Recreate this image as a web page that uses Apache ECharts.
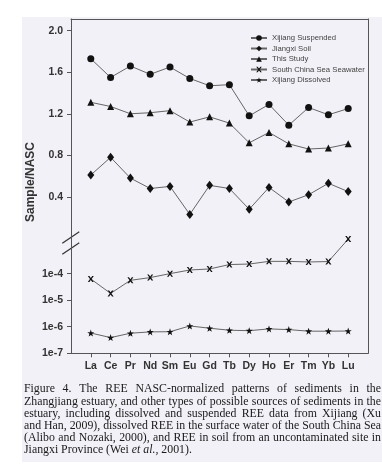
<!DOCTYPE html>
<html>
<head>
<meta charset="utf-8">
<script src="https://cdn.jsdelivr.net/npm/echarts@6/dist/echarts.min.js"></script>
<style>
html,body{margin:0;padding:0;background:#fff;}
#c{width:382px;height:470px;}
</style>
</head>
<body>
<div id="c"></div>
<script>
// ---- data ----
const categories = ['La','Ce','Pr','Nd','Sm','Eu','Gd','Tb','Dy','Ho','Er','Tm','Yb','Lu'];
const xijiangSuspended = [1.73,1.55,1.66,1.58,1.65,1.54,1.47,1.48,1.18,1.29,1.09,1.26,1.19,1.25];
const jiangxiSoil = [0.61,0.78,0.58,0.48,0.50,0.23,0.51,0.48,0.28,0.49,0.35,0.42,0.53,0.45];
const thisStudy = [1.31,1.27,1.20,1.21,1.23,1.12,1.17,1.11,0.92,1.02,0.91,0.86,0.87,0.91];
const seawater = [6.3e-5,1.8e-5,5.6e-5,7.1e-5,1.0e-4,1.37e-4,1.5e-4,2.2e-4,2.3e-4,2.9e-4,2.9e-4,2.75e-4,2.85e-4,2.0e-3];
const dissolved = [5.8e-7,3.9e-7,5.7e-7,6.4e-7,6.5e-7,1.07e-6,8.8e-7,7.4e-7,7.1e-7,8.3e-7,7.8e-7,6.8e-7,6.8e-7,6.9e-7];
const upperTicks = [0.4,0.8,1.2,1.6,2.0];
const lowerTicks = [1e-7,1e-6,1e-5,1e-4];
const seriesNames = ['Xijiang Suspended','Jiangxi Soil','This Study','South China Sea Seawater','Xijiang Dissolved'];
const yTitle = 'Sample/NASC';
const captionLines = [
  'Figure 4.  The REE NASC-normalized patterns of sediments in the',
  'Zhangjiang estuary, and other types of possible sources of sediments in the',
  'estuary, including dissolved and suspended REE data from Xijiang (Xu',
  'and Han, 2009), dissolved REE in the surface water of the South China Sea',
  '(Alibo and Nozaki, 2000), and REE in soil from an uncontaminated site in',
  'Jiangxi Province (Wei et al., 2001).'
];
const italicWords = ['et','al.,'];

// ---- styles ----
const SANS = '"Liberation Sans", Arial, sans-serif';
const SERIF = '"Liberation Serif", "Times New Roman", serif';
const BG = '#f1f1f7';
const TXT = '#333';
const LINE = '#666';
const MARK = '#111';
const X_SYM = 'path://M0,0L2.6,0L5,3.2L7.4,0L10,0L6.4,5L10,10L7.4,10L5,6.8L2.6,10L0,10L3.6,5Z';
const STAR_SYM = 'path://M5,0L6.18,3.45L9.76,3.45L6.9,5.6L7.94,9.05L5,7L2.06,9.05L3.1,5.6L0.24,3.45L3.82,3.45Z';

const toPairs = arr => categories.map((c, i) => [i, arr[i]]);

function lineSeries(name, arr, grid, symbol, size) {
  return {
    name, type: 'line', xAxisIndex: grid, yAxisIndex: grid,
    data: toPairs(arr), symbol, symbolSize: size, showSymbol: true,
    lineStyle: { color: LINE, width: 1 },
    itemStyle: { color: MARK },
    emphasis: { disabled: true }, animation: false, clip: false
  };
}

// ---- caption (justified words) ----
const ctx = document.createElement('canvas').getContext('2d');
const CAP_SIZE = 12.5;
const CAP_LEFT = 24, CAP_RIGHT = 381, CAP_BASE0 = 395.7, CAP_LH = 12.2;
function fontOf(w) { return (italicWords.includes(w) ? 'italic ' : '') + CAP_SIZE + 'px ' + SERIF; }
function wWidth(w) { ctx.font = fontOf(w); return ctx.measureText(w).width; }
ctx.font = CAP_SIZE + 'px ' + SERIF;
const spaceW = ctx.measureText(' ').width;
const lineWords = captionLines.map(l => l.split(/\s+/));
const natural = lineWords.map(ws => ws.reduce((s, w) => s + wWidth(w), 0) + spaceW * (ws.length - 1));
const capScale = Math.min(1, (CAP_RIGHT - CAP_LEFT) / Math.max(...natural.slice(0, -1)));
const captionEls = [];
lineWords.forEach((ws, li) => {
  const last = li === lineWords.length - 1;
  const wordsW = ws.reduce((s, w) => s + wWidth(w), 0) * capScale;
  const gap = last ? spaceW * capScale : ((CAP_RIGHT - CAP_LEFT) - wordsW) / (ws.length - 1);
  let x = CAP_LEFT;
  ws.forEach(w => {
    captionEls.push({
      type: 'text', x, y: CAP_BASE0 + li * CAP_LH, scaleX: capScale, silent: true,
      style: { text: w, font: fontOf(w), fill: '#1a1a1a', verticalAlign: 'bottom' }
    });
    x += wWidth(w) * capScale + gap;
  });
});

const chart = echarts.init(document.getElementById('c'), null, { renderer: 'canvas' });
const frameAxis = { onZero: false, lineStyle: { color: '#555', width: 1 } };
const option = {
  backgroundColor: BG,
  animation: false,
  grid: [
    { left: 71, width: 297, top: 19, height: 211 },
    { left: 71, width: 297, top: 230, height: 123.3 }
  ],
  xAxis: [
    { gridIndex: 0, type: 'value', min: -1, max: 14, position: 'top',
      axisLine: { show: true, ...frameAxis }, axisTick: { show: false }, axisLabel: { show: false }, splitLine: { show: false } },
    { gridIndex: 1, type: 'value', min: -1, max: 14, position: 'bottom',
      axisLine: { show: true, ...frameAxis },
      axisTick: { show: true, length: 4, inside: false, customValues: categories.map((c, i) => i), lineStyle: { color: '#555' } },
      axisLabel: { show: true, customValues: categories.map((c, i) => i), formatter: v => categories[Math.round(v)] || '',
        margin: 7, color: TXT, fontFamily: SANS, fontWeight: 'bold', fontSize: 10.5 },
      splitLine: { show: false } }
  ],
  yAxis: [
    { gridIndex: 0, type: 'value', min: 0.08, max: 2.113, position: 'left',
      axisLine: { show: true, ...frameAxis },
      axisTick: { show: true, length: 4, customValues: upperTicks, lineStyle: { color: '#555' } },
      axisLabel: { show: true, customValues: upperTicks, formatter: v => v.toFixed(1), margin: 8,
        color: TXT, fontFamily: SANS, fontWeight: 'bold', fontSize: 10.5 },
      splitLine: { show: false } },
    { gridIndex: 1, type: 'log', logBase: 10, min: 1e-7, max: 4.4e-3, position: 'left',
      axisLine: { show: true, ...frameAxis },
      axisTick: { show: true, length: 4, customValues: lowerTicks, lineStyle: { color: '#555' } },
      axisLabel: { show: true, customValues: lowerTicks, formatter: v => '1e' + Math.round(Math.log10(v)), margin: 8,
        color: TXT, fontFamily: SANS, fontWeight: 'bold', fontSize: 10.5 },
      splitLine: { show: false }, minorTick: { show: false } },
    { gridIndex: 0, type: 'value', position: 'right',
      axisLine: { show: true, ...frameAxis }, axisTick: { show: false }, axisLabel: { show: false }, splitLine: { show: false } },
    { gridIndex: 1, type: 'value', position: 'right',
      axisLine: { show: true, ...frameAxis }, axisTick: { show: false }, axisLabel: { show: false }, splitLine: { show: false } }
  ],
  legend: {
    orient: 'vertical', left: 250, top: 33, padding: 0,
    itemWidth: 16, itemHeight: 7, itemGap: 0.5,
    data: seriesNames,
    textStyle: { fontFamily: SANS, fontSize: 7.7, color: '#444', lineHeight: 10 },
    selectedMode: false
  },
  series: [
    lineSeries(seriesNames[0], xijiangSuspended, 0, 'circle', 7),
    lineSeries(seriesNames[1], jiangxiSoil, 0, 'diamond', [7, 9]),
    lineSeries(seriesNames[2], thisStudy, 0, 'triangle', 7),
    lineSeries(seriesNames[3], seawater, 1, X_SYM, 6),
    lineSeries(seriesNames[4], dissolved, 1, STAR_SYM, 7)
  ],
  graphic: [
    { type: 'rect', shape: { x: 0, y: 0, width: 22, height: 470 }, style: { fill: '#fff' }, silent: true },
    { type: 'rect', shape: { x: 0, y: 0, width: 382, height: 17 }, style: { fill: '#fff' }, silent: true },
    { type: 'rect', shape: { x: 0, y: 462, width: 382, height: 8 }, style: { fill: '#fff' }, silent: true },
    { type: 'line', shape: { x1: 62.3, y1: 243.3, x2: 79.3, y2: 231.7 }, style: { stroke: '#333', lineWidth: 1.2 }, silent: true },
    { type: 'line', shape: { x1: 62.3, y1: 254.3, x2: 79.3, y2: 242.7 }, style: { stroke: '#333', lineWidth: 1.2 }, silent: true },
    { type: 'text', x: 31, y: 182, rotation: Math.PI / 2, silent: true,
      style: { text: yTitle, font: 'bold 12px ' + SANS, fill: TXT, align: 'center', verticalAlign: 'middle' } },
    ...captionEls
  ]
};
chart.setOption(option);
</script>
</body>
</html>
